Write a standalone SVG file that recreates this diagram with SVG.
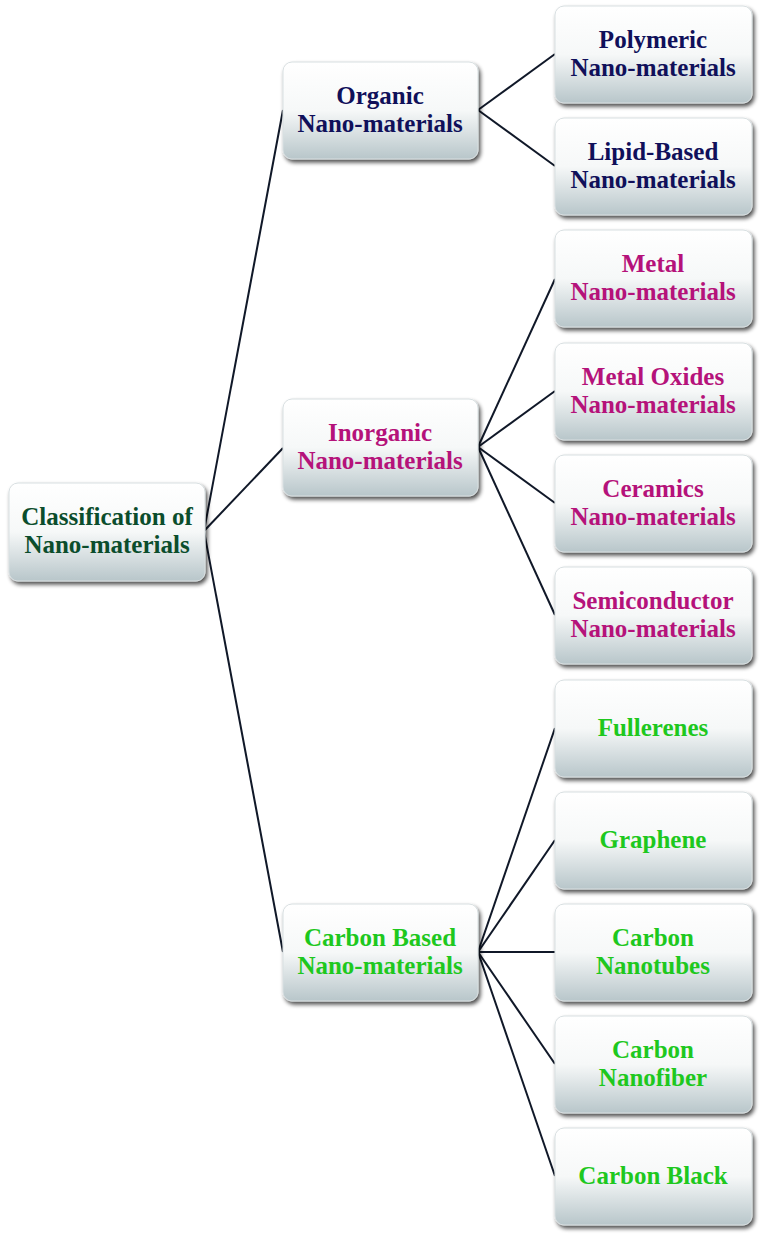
<svg xmlns="http://www.w3.org/2000/svg" width="761" height="1240" viewBox="0 0 761 1240">
<defs>
<linearGradient id="g" x1="0" y1="0" x2="0" y2="1">
<stop offset="0" stop-color="#ffffff"/>
<stop offset="0.5" stop-color="#f6f8f8"/>
<stop offset="1" stop-color="#b8c6ca"/>
</linearGradient>
<filter id="sh" x="-10%" y="-10%" width="125%" height="130%">
<feGaussianBlur in="SourceAlpha" stdDeviation="2"/>
<feOffset dx="2" dy="3"/>
<feComponentTransfer><feFuncA type="linear" slope="0.7"/></feComponentTransfer>
<feMerge><feMergeNode/><feMergeNode in="SourceGraphic"/></feMerge>
</filter>
</defs>
<style>
.box{fill:url(#g);stroke:#d8dfe1;stroke-width:1;filter:url(#sh)}
text{font-family:"Liberation Serif","Times New Roman",serif;font-weight:bold;font-size:25px;text-anchor:middle}
.r{fill:#0b4d2c}
.o{fill:#10105a}
.i{fill:#b5127a}
.c{fill:#1ec81e}
.ln{stroke:#101828;stroke-width:2;fill:none}
</style>
<rect width="761" height="1240" fill="#ffffff"/>
<g id="connectors" class="ln">
<line x1="204" y1="531" x2="283" y2="110"/>
<line x1="204" y1="531" x2="283" y2="448"/>
<line x1="204" y1="531" x2="283" y2="952"/>
<line x1="478" y1="110" x2="555" y2="54"/>
<line x1="478" y1="110" x2="555" y2="166"/>
<line x1="478" y1="447" x2="555" y2="279"/>
<line x1="478" y1="447" x2="555" y2="391"/>
<line x1="478" y1="447" x2="555" y2="503"/>
<line x1="478" y1="447" x2="555" y2="615"/>
<line x1="478" y1="952" x2="555" y2="728"/>
<line x1="478" y1="952" x2="555" y2="840"/>
<line x1="478" y1="952" x2="555" y2="952"/>
<line x1="478" y1="952" x2="555" y2="1064"/>
<line x1="478" y1="952" x2="555" y2="1176"/>
</g>
<g id="root"><rect class="box" x="9" y="483" width="196" height="98" rx="9"/><text class="r" x="107" y="525">Classification of</text><text class="r" x="107" y="553">Nano-materials</text></g>
<g id="organic"><rect class="box" x="283" y="62" width="195" height="97" rx="9"/><text class="o" x="380" y="104">Organic</text><text class="o" x="380" y="132">Nano-materials</text></g>
<g id="inorganic"><rect class="box" x="283" y="399" width="195" height="97" rx="9"/><text class="i" x="380" y="441">Inorganic</text><text class="i" x="380" y="469">Nano-materials</text></g>
<g id="carbon"><rect class="box" x="283" y="904" width="195" height="97" rx="9"/><text class="c" x="380" y="946">Carbon Based</text><text class="c" x="380" y="974">Nano-materials</text></g>
<g id="polymeric"><rect class="box" x="555" y="6" width="197" height="97" rx="9"/><text class="o" x="653" y="48">Polymeric</text><text class="o" x="653" y="76">Nano-materials</text></g>
<g id="lipid"><rect class="box" x="555" y="118" width="197" height="97" rx="9"/><text class="o" x="653" y="160">Lipid-Based</text><text class="o" x="653" y="188">Nano-materials</text></g>
<g id="metal"><rect class="box" x="555" y="230" width="197" height="97" rx="9"/><text class="i" x="653" y="272">Metal</text><text class="i" x="653" y="300">Nano-materials</text></g>
<g id="metaloxides"><rect class="box" x="555" y="343" width="197" height="97" rx="9"/><text class="i" x="653" y="385">Metal Oxides</text><text class="i" x="653" y="413">Nano-materials</text></g>
<g id="ceramics"><rect class="box" x="555" y="455" width="197" height="97" rx="9"/><text class="i" x="653" y="497">Ceramics</text><text class="i" x="653" y="525">Nano-materials</text></g>
<g id="semiconductor"><rect class="box" x="555" y="567" width="197" height="97" rx="9"/><text class="i" x="653" y="609">Semiconductor</text><text class="i" x="653" y="637">Nano-materials</text></g>
<g id="fullerenes"><rect class="box" x="555" y="680" width="197" height="97" rx="9"/><text class="c" x="653" y="736">Fullerenes</text></g>
<g id="graphene"><rect class="box" x="555" y="792" width="197" height="97" rx="9"/><text class="c" x="653" y="848">Graphene</text></g>
<g id="nanotubes"><rect class="box" x="555" y="904" width="197" height="97" rx="9"/><text class="c" x="653" y="946">Carbon</text><text class="c" x="653" y="974">Nanotubes</text></g>
<g id="nanofiber"><rect class="box" x="555" y="1016" width="197" height="97" rx="9"/><text class="c" x="653" y="1058">Carbon</text><text class="c" x="653" y="1086">Nanofiber</text></g>
<g id="carbonblack"><rect class="box" x="555" y="1128" width="197" height="97" rx="9"/><text class="c" x="653" y="1184">Carbon Black</text></g>
</svg>
